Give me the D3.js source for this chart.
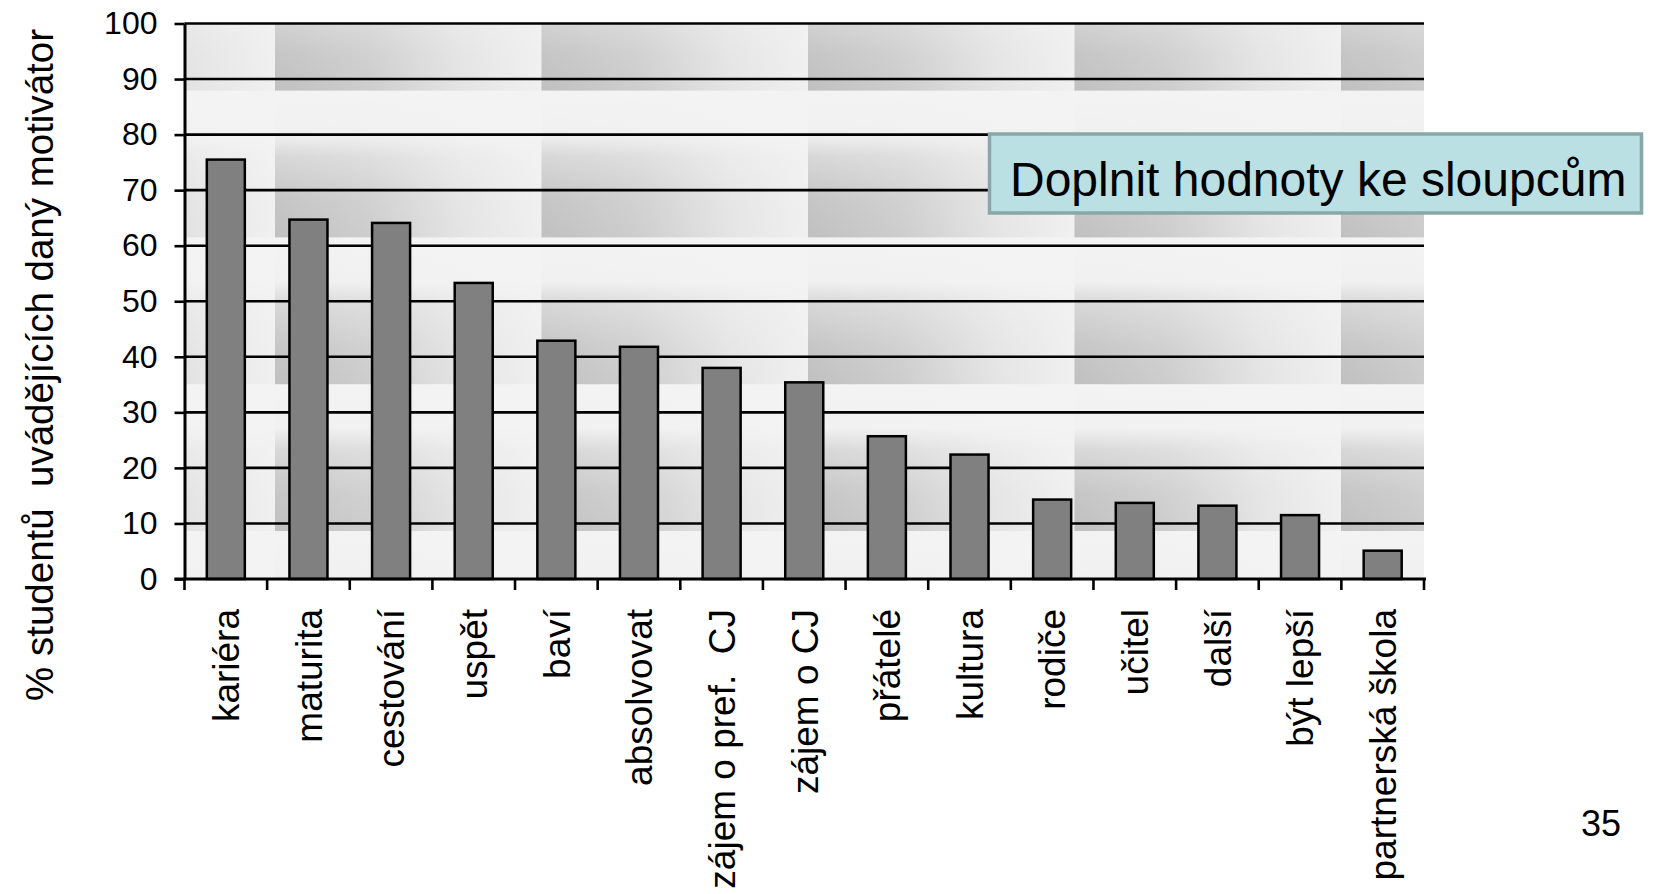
<!DOCTYPE html>
<html lang="cs">
<head>
<meta charset="utf-8">
<title>Motivátory studentů</title>
<script src="https://cdn.jsdelivr.net/npm/d3@7/dist/d3.min.js"></script>
<style>
  html, body { margin: 0; padding: 0; background: #ffffff; }
  svg { display: block; font-family: "Liberation Sans", Arial, sans-serif; }
</style>
</head>
<body>
<svg id="chart" width="1672" height="894"></svg>
<script>
// Motivators and the share of students naming each one (%)
const categories = [
  "kariéra", "maturita", "cestování", "uspět", "baví", "absolvovat",
  "zájem o pref.  CJ", "zájem o CJ", "přátelé", "kultura", "rodiče",
  "učitel", "další", "být lepší", "partnerská škola"
];
const values = [75.5, 64.7, 64.1, 53.3, 42.9, 41.8, 38.0, 35.4, 25.7, 22.4, 14.3, 13.7, 13.2, 11.5, 5.1];
const yTicks = [0, 10, 20, 30, 40, 50, 60, 70, 80, 90, 100];

const yTitle = "% studentů  uvádějících daný motivátor";
const noteText = "Doplnit hodnoty ke sloupcům";
const pageNumber = "35";

const svg = d3.select("#chart");
const plot = { left: 184.5, right: 1424, top: 23.5, bottom: 579 };

const x = d3.scaleBand()
  .domain(categories)
  .range([plot.left, plot.right])
  .paddingInner(0.54)
  .paddingOuter(0.27);

const y = d3.scaleLinear()
  .domain([0, 100])
  .range([plot.bottom, plot.top]);

// ---- textured plot background (tiled gradient blocks) ----
const defs = svg.append("defs");
const hg = defs.append("linearGradient").attr("id", "tileH")
  .attr("x1", 0).attr("y1", 0).attr("x2", 1).attr("y2", 0);
[[0, "#c0c0c0"], [0.35, "#cdcdcd"], [0.7, "#e4e4e4"], [1, "#f0f0f0"]]
  .forEach(([o, c]) => hg.append("stop").attr("offset", o).attr("stop-color", c));
const vg = defs.append("linearGradient").attr("id", "tileV")
  .attr("x1", 0).attr("y1", 0).attr("x2", 0).attr("y2", 1);
[[0, 1], [0.3, 0.95], [0.45, 0.45], [0.75, 0.1], [1, 0]]
  .forEach(([o, a]) => vg.append("stop").attr("offset", o)
    .attr("stop-color", "#f3f3f3").attr("stop-opacity", a));

const tileW = 266.5, tileH = 146.8;
const pat = defs.append("pattern").attr("id", "texture")
  .attr("patternUnits", "userSpaceOnUse")
  .attr("x", 275 - tileW).attr("y", 90.6 - tileH)
  .attr("width", tileW).attr("height", tileH);
pat.append("rect").attr("width", tileW).attr("height", tileH).attr("fill", "#f2f2f2");
pat.append("rect").attr("width", tileW).attr("height", tileH).attr("fill", "url(#tileH)");
pat.append("rect").attr("width", tileW).attr("height", tileH).attr("fill", "url(#tileV)");

svg.append("rect")
  .attr("x", plot.left).attr("y", plot.top)
  .attr("width", plot.right - plot.left).attr("height", plot.bottom - plot.top)
  .attr("fill", "url(#texture)");

// ---- horizontal gridlines ----
svg.append("g")
  .selectAll("line")
  .data(yTicks.filter(d => d > 0))
  .join("line")
  .attr("x1", plot.left).attr("x2", plot.right)
  .attr("y1", d => y(d)).attr("y2", d => y(d))
  .attr("stroke", "#000").attr("stroke-width", 2.6);

// ---- bars ----
svg.append("g")
  .selectAll("rect")
  .data(categories.map((c, i) => ({ c, v: values[i] })))
  .join("rect")
  .attr("x", d => x(d.c))
  .attr("y", d => y(d.v))
  .attr("width", x.bandwidth())
  .attr("height", d => y(0) - y(d.v))
  .attr("fill", "#808080")
  .attr("stroke", "#000")
  .attr("stroke-width", 2.5);

// ---- y axis ----
const yAxis = svg.append("g")
  .attr("transform", `translate(${plot.left},0)`)
  .call(d3.axisLeft(y).tickValues(yTicks).tickSize(10).tickPadding(17).tickSizeOuter(0));
yAxis.select(".domain").attr("stroke", "#000").attr("stroke-width", 3);
yAxis.selectAll(".tick line").attr("stroke", "#000").attr("stroke-width", 2.6);
yAxis.selectAll(".tick text")
  .attr("fill", "#000")
  .style("font-size", "32px")
  .style("font-family", "\"Liberation Sans\", Arial, sans-serif");

// ---- x axis: baseline, ticks between categories, rotated labels ----
const xAxis = svg.append("g");
xAxis.append("line")
  .attr("x1", plot.left - 10).attr("x2", plot.right + 2)
  .attr("y1", plot.bottom).attr("y2", plot.bottom)
  .attr("stroke", "#000").attr("stroke-width", 3);
const step = x.step();
const bounds = d3.range(categories.length + 1).map(i => x(categories[0]) - step * x.paddingOuter() + i * step);
xAxis.selectAll("line.tick")
  .data(bounds)
  .join("line")
  .attr("class", "tick")
  .attr("x1", d => d).attr("x2", d => d)
  .attr("y1", plot.bottom).attr("y2", plot.bottom + 11)
  .attr("stroke", "#000").attr("stroke-width", 2.6);
xAxis.selectAll("text")
  .data(categories)
  .join("text")
  .attr("transform", d => `translate(${x(d) + x.bandwidth() / 2},${plot.bottom + 30}) rotate(-90)`)
  .attr("text-anchor", "end")
  .attr("dy", "0.36em")
  .attr("fill", "#000")
  .style("font-size", "37px")
  .style("white-space", "pre")
  .text(d => d);

// ---- axis title ----
svg.append("text")
  .attr("transform", "translate(53,365) rotate(-90)")
  .attr("text-anchor", "middle")
  .style("font-size", "38.5px")
  .style("white-space", "pre")
  .attr("fill", "#000")
  .text(yTitle);

// ---- note box ----
const note = svg.append("g");
note.append("rect")
  .attr("x", 989.5).attr("y", 134)
  .attr("width", 652).attr("height", 79)
  .attr("fill", "#bbe0e4")
  .attr("stroke", "#89a6a9")
  .attr("stroke-width", 3.5);
note.append("text")
  .attr("x", 1010).attr("y", 196)
  .attr("fill", "#000")
  .style("font-size", "48px")
  .text(noteText);

// ---- page number ----
svg.append("text")
  .attr("x", 1621).attr("y", 836)
  .attr("text-anchor", "end")
  .attr("fill", "#000")
  .style("font-size", "36px")
  .text(pageNumber);
</script>
</body>
</html>
